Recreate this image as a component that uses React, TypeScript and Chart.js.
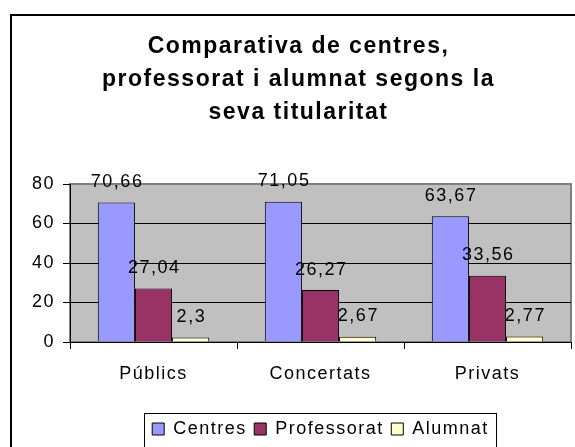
import React, { useEffect, useRef } from 'react';
import { Chart, registerables } from 'chart.js';

Chart.register(...registerables);

const categories = ['Públics', 'Concertats', 'Privats'];
const seriesNames = ['Centres', 'Professorat', 'Alumnat'];
const centres = [70.66, 71.05, 63.67];
const professorat = [27.04, 26.27, 33.56];
const alumnat = [2.3, 2.67, 2.77];
const yTicks = [0, 20, 40, 60, 80];
const titleLines = ['Comparativa de centres,', 'professorat i alumnat segons la', 'seva titularitat'];
const seriesColors = ['#9999FF', '#993366', '#FFFFCC'];

const FONT = "'Liberation Sans', Arial, sans-serif";
const LS = '1.5px';

const excelPlugin = {
  id: 'excelLook',
  beforeUpdate(chart: any) {
    chart.ctx.letterSpacing = LS;
  },
  beforeLayout(chart: any) {
    chart.ctx.letterSpacing = LS;
  },
  beforeDraw(chart: any) {
    const ctx = chart.ctx;
    ctx.letterSpacing = LS;
    const { left, top, right, bottom } = chart.chartArea;
    ctx.save();
    ctx.fillStyle = '#C0C0C0';
    ctx.fillRect(left, top, right - left, bottom - top);
    ctx.strokeStyle = '#808080';
    ctx.lineWidth = 2;
    ctx.strokeRect(left, top, right - left, bottom - top);
    ctx.restore();
  },
  afterDatasetsDraw(chart: any) {
    const ctx = chart.ctx;
    ctx.save();
    ctx.letterSpacing = LS;
    ctx.font = `18px ${FONT}`;
    ctx.fillStyle = '#000';
    ctx.textAlign = 'center';
    ctx.textBaseline = 'alphabetic';
    chart.data.datasets.forEach((ds: any, di: number) => {
      const meta = chart.getDatasetMeta(di);
      meta.data.forEach((el: any, i: number) => {
        const txt = String(ds.data[i]).replace('.', ',');
        ctx.fillText(txt, el.x + 0.75, el.y - 15.5);
      });
    });
    ctx.restore();
  },
  afterDraw(chart: any) {
    const lg = chart.legend;
    if (!lg || !lg.legendHitBoxes || !lg.legendHitBoxes.length) return;
    const hb = lg.legendHitBoxes;
    const l = Math.round(hb[0].left - 8) + 0.5;
    const last = hb[hb.length - 1];
    const r = Math.round(last.left + last.width + 7) + 0.5;
    const t = Math.round(lg.top) + 0.5;
    const ctx = chart.ctx;
    ctx.save();
    ctx.strokeStyle = '#000';
    ctx.lineWidth = 1;
    ctx.strokeRect(l, t, r - l, 100);
    ctx.restore();
  },
};

export default function App() {
  const ref = useRef<HTMLCanvasElement | null>(null);
  useEffect(() => {
    if (!ref.current) return;
    Chart.defaults.font.family = FONT;
    Chart.defaults.color = '#000';
    const values = [centres, professorat, alumnat];
    const chart = new Chart(ref.current, {
      type: 'bar',
      data: {
        labels: categories,
        datasets: seriesNames.map((name, i) => ({
          label: name,
          data: values[i],
          backgroundColor: seriesColors[i],
          borderColor: '#000',
          borderWidth: 1,
          categoryPercentage: 0.667,
          barPercentage: 1.0,
        })),
      },
      options: {
        responsive: false,
        animation: false,
        layout: { padding: { left: 26, right: 4, top: 0, bottom: 12 } },
        scales: {
          x: {
            offset: true,
            grid: { offset: true, drawOnChartArea: false, tickLength: 7, color: '#000', lineWidth: 1 },
            border: { color: '#000', width: 1 },
            ticks: { padding: 14, font: { size: 18 }, color: '#000', maxRotation: 0, autoSkip: false },
            afterFit: (s: any) => {
              s.height = 70.5;
            },
          },
          y: {
            min: 0,
            max: 80,
            afterBuildTicks: (s: any) => {
              s.ticks = yTicks.map((v) => ({ value: v }));
            },
            grid: {
              color: (c: any) => (c.tick && c.tick.value === 80 ? '#808080' : '#000'),
              tickColor: '#000',
              tickLength: 7,
              lineWidth: 1,
            },
            border: { color: '#000', width: 1 },
            ticks: { padding: 8, font: { size: 18 }, color: '#000' },
            afterFit: (s: any) => {
              s.width = 44;
            },
          },
        },
        plugins: {
          title: {
            display: true,
            text: titleLines,
            color: '#000',
            font: { size: 23, weight: 'bold', family: FONT, lineHeight: 33 / 23 },
            padding: { top: 30.5, bottom: 54.5 },
          },
          legend: {
            position: 'bottom',
            fullSize: false,
            labels: {
              boxWidth: 12,
              boxHeight: 12,
              padding: 7.5,
              color: '#000',
              font: { size: 18 },
            },
          },
          tooltip: { enabled: false },
        },
      },
      plugins: [excelPlugin],
    } as any);
    return () => chart.destroy();
  }, []);

  return (
    <div
      style={{
        position: 'fixed',
        left: 0,
        top: 0,
        width: 575,
        height: 447,
        overflow: 'hidden',
        background: '#fff',
      }}
    >
      <div
        style={{
          position: 'absolute',
          left: 10,
          top: 14,
          width: 600,
          height: 500,
          border: '2px solid #000',
        }}
      />
      <canvas
        ref={ref}
        width={575}
        height={460}
        style={{ position: 'absolute', left: 0, top: 0, display: 'block' }}
      />
    </div>
  );
}
